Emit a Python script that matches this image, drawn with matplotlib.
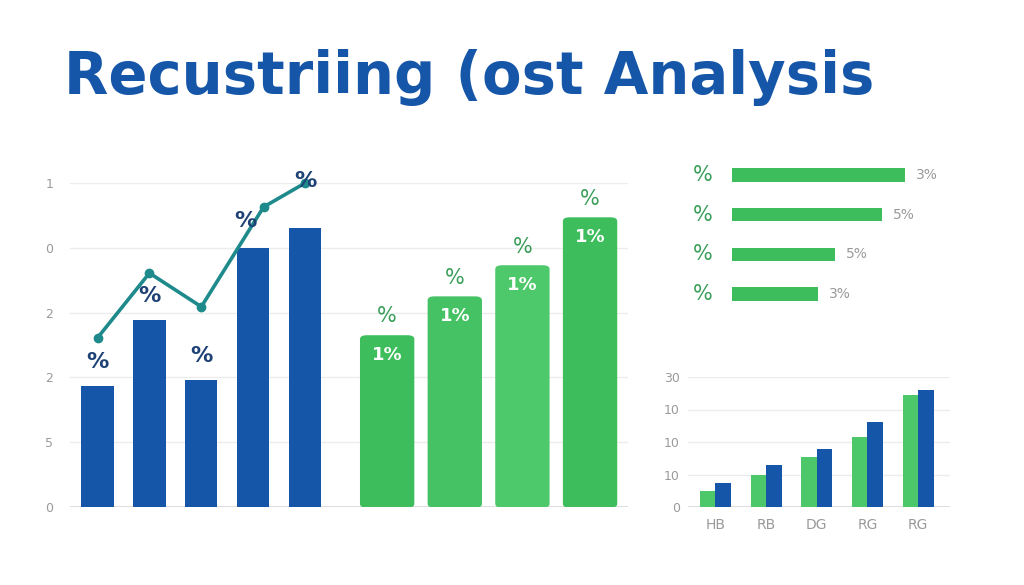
import numpy as np
import matplotlib.pyplot as plt
from matplotlib.patches import FancyBboxPatch

# main chart: blue bars + line, green bars
blue_vals = [1.87, 2.89, 1.96, 4.0, 4.31]
line_x = [0, 1, 2, 3.2, 4]
line_vals = [2.61, 3.61, 3.09, 4.63, 5.0]
green_vals = [2.64, 3.24, 3.72, 4.46]
main_ticklabels = ['0', '5', '2', '2', '0', '1']

# top right: horizontal bars
hbar_vals = [17.3, 15.0, 10.3, 8.6]
hbar_labels = ['3%', '5%', '5%', '3%']

# bottom right: grouped bars
group_labels = ['HB', 'RB', 'DG', 'RG', 'RG']
group_green = [0.49, 0.98, 1.53, 2.15, 3.45]
group_blue = [0.75, 1.28, 1.80, 2.61, 3.59]
small_ticklabels = ['0', '10', '10', '10', '30']

BLUE = '#1656a8'
NAVY = '#1e4276'
TEAL = '#1f8a8c'
GREEN = '#3dbd5b'
GREEN_TXT = '#3a9e5a'
GRAY = '#9a9a9a'
GRID = '#ececec'

W, H = 1024, 585


def px_axes(fig, left, top, right, bottom):
    return fig.add_axes([left / W, 1 - bottom / H, (right - left) / W, (bottom - top) / H])


def clean(ax):
    for s in ax.spines.values():
        s.set_visible(False)
    ax.tick_params(length=0)


fig = plt.figure(figsize=(10.24, 5.85), dpi=100)
fig.patch.set_facecolor('white')

fig.text(64 / W, 1 - 78 / H, 'Recustriing (ost Analysis', fontsize=41.5, fontweight='bold',
         color=BLUE, va='center', ha='left')

# ---- main chart
ax = px_axes(fig, 70, 183, 628, 507)
clean(ax)
ax.set_xlim(-0.53, 10.22)
ax.set_ylim(0, 5)
ax.set_yticks(range(6))
ax.set_yticklabels(main_ticklabels, color=GRAY, fontsize=9)
ax.tick_params(axis='y', pad=12)
ax.set_xticks([])
for t in range(1, 6):
    ax.axhline(t, color=GRID, lw=1, zorder=0)
ax.axhline(0, color='#d8d8d8', lw=1.2, zorder=0)

bx = np.arange(len(blue_vals))
ax.bar(bx, blue_vals, width=0.62, color=BLUE, zorder=2)
ax.plot(line_x, line_vals, color=TEAL, lw=2.6, marker='o', ms=6, zorder=3, clip_on=False)

blue_pct_pos = [(0, 2.23), (1, 3.25), (2, 2.33), (2.85, 4.41), (4, 5.03)]
for x, y in blue_pct_pos:
    ax.text(x, y, '%', color=NAVY, fontsize=16, fontweight='bold', ha='center', va='center', zorder=4)

gx = 5.58 + 1.303 * np.arange(len(green_vals))
green_shades = ['#3dbd5b', '#45c263', '#4dc96b', '#3dbd5b']
for x, v, c in zip(gx, green_vals, green_shades):
    p = FancyBboxPatch((x - 0.51, 0), 1.02, v, boxstyle='round,pad=0,rounding_size=0.12',
                       mutation_aspect=0.4, color=c, zorder=2)
    ax.add_patch(p)
    ax.text(x, v + 0.3, '%', color=GREEN_TXT, fontsize=15, ha='center', va='center')
    ax.text(x, v - 0.3, '1%', color='white', fontsize=13, fontweight='bold', ha='center', va='center')

# ---- top right horizontal bars
ax2 = px_axes(fig, 732, 150, 960, 320)
ax2.axis('off')
ax2.set_xlim(0, 22.8)
ax2.set_ylim(3.655, -0.63)
hy = np.arange(len(hbar_vals))
ax2.barh(hy, hbar_vals, height=0.33, color=GREEN)
for y, v, lab in zip(hy, hbar_vals, hbar_labels):
    ax2.text(v + 1.1, y, lab, color=GRAY, fontsize=10, va='center', ha='left')
    ax2.text(-2.9, y, '%', color=GREEN_TXT, fontsize=15, va='center', ha='center', clip_on=False)

# ---- bottom right grouped bars
ax3 = px_axes(fig, 688, 377, 950, 507)
clean(ax3)
ax3.set_xlim(-0.54, 4.63)
ax3.set_ylim(0, 4)
ax3.set_yticks(range(5))
ax3.set_yticklabels(small_ticklabels, color=GRAY, fontsize=9)
ax3.tick_params(axis='y', pad=6)
for t in range(1, 5):
    ax3.axhline(t, color=GRID, lw=1, zorder=0)
ax3.axhline(0, color='#d8d8d8', lw=1.2, zorder=0)
gi = np.arange(len(group_labels))
ax3.bar(gi - 0.153, group_green, width=0.305, color='#4cc86a', zorder=2)
ax3.bar(gi + 0.153, group_blue, width=0.305, color=BLUE, zorder=2)
ax3.set_xticks(gi)
ax3.set_xticklabels(group_labels, color=GRAY, fontsize=10)
ax3.tick_params(axis='x', pad=8)

fig.savefig('out.png', dpi=100)
